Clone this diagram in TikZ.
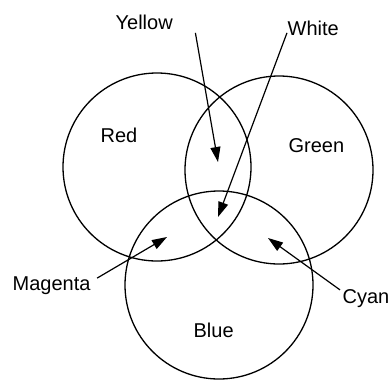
\documentclass[tikz,border=0pt]{standalone}
\usepackage{fontspec}
\setmainfont{Liberation Sans}
\usetikzlibrary{arrows.meta}
\usetikzlibrary{positioning}

\begin{document}
\begin{tikzpicture}[x=1pt, y=-1pt, line width=1.3pt,
    lamp/.style={circle, draw, inner sep=0pt, outer sep=0pt, minimum size=188pt},
    colname/.style={anchor=base west, inner sep=0pt, font=\fontsize{20}{24}\selectfont},
    pointer/.style={-{Triangle[length=15pt, width=10pt]}, line width=1.2pt}]
        % Fix the size of the picture
        \useasboundingbox (0,0) rectangle (388,380);

        % Draw the three light circles
        \node[lamp] (red) at (157,167) {};
        \node[lamp] (green) at (279,170) {};
        \node[lamp] (blue) at (219,285) {};

        % Names of the primary colours
        \node[colname] (r) at (100,142) {Red};
        \node[colname] (g) at (288,152) {Green};
        \node[colname] (b) at (193,337) {Blue};

        % Names of the mixed colours
        \node[colname] (ylw) at (115,29.5) {Yellow};
        \node[colname] (wht) at (287,35) {White};
        \node[colname] (mag) at (12,290) {Magenta};
        \node[colname] (cyn) at (342,303) {Cyan};

        % Where the arrows point to
        \coordinate (ytip) at (218,162);
        \coordinate (wtip) at (218,217);
        \coordinate (mtip) at (167,237);
        \coordinate (ctip) at (268,238);

        \draw[pointer] ([xshift=22pt, yshift=-2.5pt]ylw.south east) -- (ytip);
        \draw[pointer] ([yshift=3pt]wht.south west) -- (wtip);
        \draw[pointer] ([xshift=6pt, yshift=-2.5pt]mag.north east) -- (mtip);
        \draw[pointer] ([xshift=-2pt, yshift=-1.5pt]cyn.north west) -- (ctip);
      \end{tikzpicture}
\end{document}
